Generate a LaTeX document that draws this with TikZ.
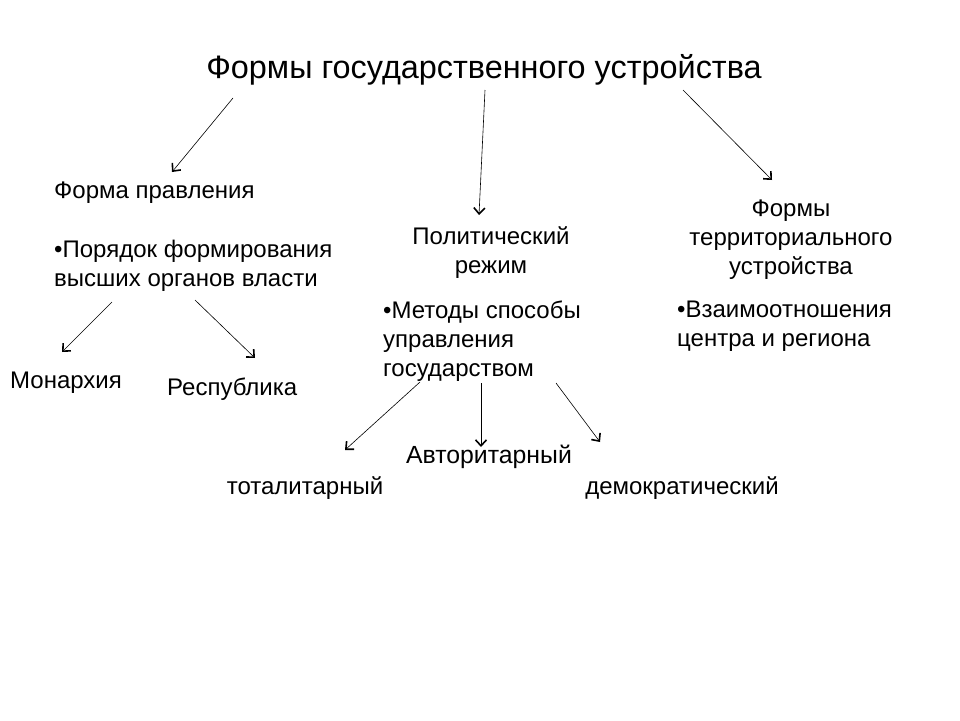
\documentclass[tikz,border=0pt]{standalone}
\usepackage{fontspec}
\setmainfont{Liberation Sans}
\usetikzlibrary{arrows.meta}
\begin{document}
\begin{tikzpicture}[x=1pt,y=-1pt,
  txt/.style={inner sep=0pt,font=\fontsize{24}{29}\selectfont},
  big/.style={inner sep=0pt,font=\fontsize{32.4}{36}\selectfont},
  mid/.style={inner sep=0pt,font=\fontsize{24.8}{28}\selectfont},
  arr/.style={draw=black,line width=0.6pt,-{Straight Barb[length=6pt,width=11pt,line width=1.6pt]}}]
\useasboundingbox (0,0) rectangle (960,720);
\node[big] (title) at (484,70) {Формы государственного устройства};
\node[txt,anchor=west] (fp) at (54,193) {Форма правления};
\node[txt,anchor=north west,align=left] (fpb) at (54,240) {•Порядок формирования\\высших органов власти};
\node[txt,anchor=west] (mon) at (10,383) {Монархия};
\node[txt,anchor=west] (rep) at (167,389) {Республика};
\node[txt,align=center] (pr) at (491,253) {Политический\\режим};
\node[txt,anchor=north west,align=left] (prb) at (383,301) {•Методы способы\\управления\\государством};
\node[txt,align=center] (ft) at (791,240) {Формы\\территориального\\устройства};
\node[txt,anchor=north west,align=left] (ftb) at (677,301) {•Взаимоотношения\\центра и региона};
\node[mid] (avt) at (489,457) {Авторитарный};
\node[txt] (tot) at (305,488) {тоталитарный};
\node[txt] (dem) at (682,488) {демократический};
\coordinate (a1s) at (233,98);  \coordinate (a1e) at (172,172);
\coordinate (a2s) at (485,90);  \coordinate (a2e) at (479,215);
\coordinate (a3s) at (683,90);  \coordinate (a3e) at (772,180);
\coordinate (a4s) at (112,302); \coordinate (a4e) at (62,352);
\coordinate (a5s) at (195,300); \coordinate (a5e) at (255,358);
\coordinate (a6s) at (420,382); \coordinate (a6e) at (345,450);
\coordinate (a7s) at (481,383); \coordinate (a7e) at (481,447);
\coordinate (a8s) at (556,383); \coordinate (a8e) at (600,442);
\draw[arr] (a1s) -- (a1e);
\draw[arr] (a2s) -- (a2e);
\draw[arr] (a3s) -- (a3e);
\draw[arr] (a4s) -- (a4e);
\draw[arr] (a5s) -- (a5e);
\draw[arr] (a6s) -- (a6e);
\draw[arr] (a7s) -- (a7e);
\draw[arr] (a8s) -- (a8e);
\end{tikzpicture}
\end{document}
